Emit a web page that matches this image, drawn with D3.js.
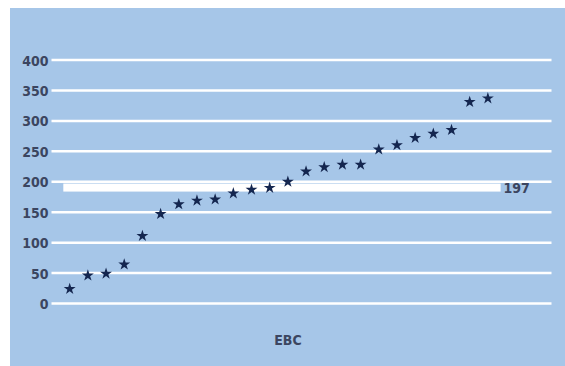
<!DOCTYPE html>
<html>
<head>
<meta charset="utf-8">
<script src="https://cdn.jsdelivr.net/npm/d3@7"></script>
<style>
  html, body { margin: 0; padding: 0; background: #ffffff; }
  svg { display: block; }
  .tick text { font-family: "DejaVu Sans Condensed", "Liberation Sans", sans-serif; font-weight: bold; }
</style>
</head>
<body>
<svg id="chart" width="565" height="366"></svg>
<script>
// Sample index (1..24) and measured values
const samples = d3.range(1, 25);
const values = [24, 46, 49, 64, 111, 147, 163, 169, 171, 181, 187, 190,
                200, 217, 224, 228, 228, 253, 260, 272, 279, 285, 331, 337];
const yTicks = [0, 50, 100, 150, 200, 250, 300, 350, 400];
const meanValue = 197;
const meanLabel = "197";
const axisTitle = "EBC";

const W = 565, H = 366;
const FONT = "'DejaVu Sans Condensed', 'Liberation Sans', sans-serif";
const TEXT_COLOR = "#3b4560";
const svg = d3.select("#chart");

// background panel
svg.append("rect")
  .attr("x", 10).attr("y", 8)
  .attr("width", W - 10).attr("height", H - 8)
  .attr("fill", "#a6c6e8");

const x = d3.scaleLinear().domain([0, 27.5]).range([51.5, 551.5]);
const y = d3.scaleLinear().domain([0, 400]).range([303.5, 60]);

// horizontal grid lines
svg.append("g")
  .selectAll("line")
  .data(yTicks)
  .join("line")
  .attr("x1", x(0)).attr("x2", x(27.5))
  .attr("y1", d => y(d)).attr("y2", d => y(d))
  .attr("stroke", "#ffffff")
  .attr("stroke-width", 2.5);

// y axis labels
const yAxis = svg.append("g")
  .attr("transform", `translate(${x(0) - 3},0)`)
  .call(d3.axisLeft(y).tickValues(yTicks).tickSize(0).tickPadding(0));
yAxis.select(".domain").remove();
yAxis.selectAll("text")
  .attr("fill", TEXT_COLOR)
  .attr("font-size", 14)
  .attr("dy", "0.36em");

// mean band
svg.append("rect")
  .attr("x", x(0.65))
  .attr("width", x(24.7) - x(0.65))
  .attr("y", y(meanValue))
  .attr("height", 8)
  .attr("fill", "#ffffff");

svg.append("text")
  .attr("x", x(24.7) + 3)
  .attr("y", y(meanValue) + 4)
  .attr("dy", "0.36em")
  .attr("font-family", FONT)
  .attr("font-weight", "bold")
  .attr("font-size", 14)
  .attr("fill", TEXT_COLOR)
  .text(meanLabel);

// data points
svg.append("g")
  .selectAll("path")
  .data(samples)
  .join("path")
  .attr("transform", (d, i) => `translate(${x(d)},${y(values[i])})`)
  .attr("d", d3.symbol().type(d3.symbolStar).size(44))
  .attr("fill", "#14264f");

// axis title
svg.append("text")
  .attr("x", 288)
  .attr("y", 340)
  .attr("dy", "0.36em")
  .attr("text-anchor", "middle")
  .attr("font-family", FONT)
  .attr("font-weight", "bold")
  .attr("font-size", 14)
  .attr("fill", TEXT_COLOR)
  .text(axisTitle);
</script>
</body>
</html>
